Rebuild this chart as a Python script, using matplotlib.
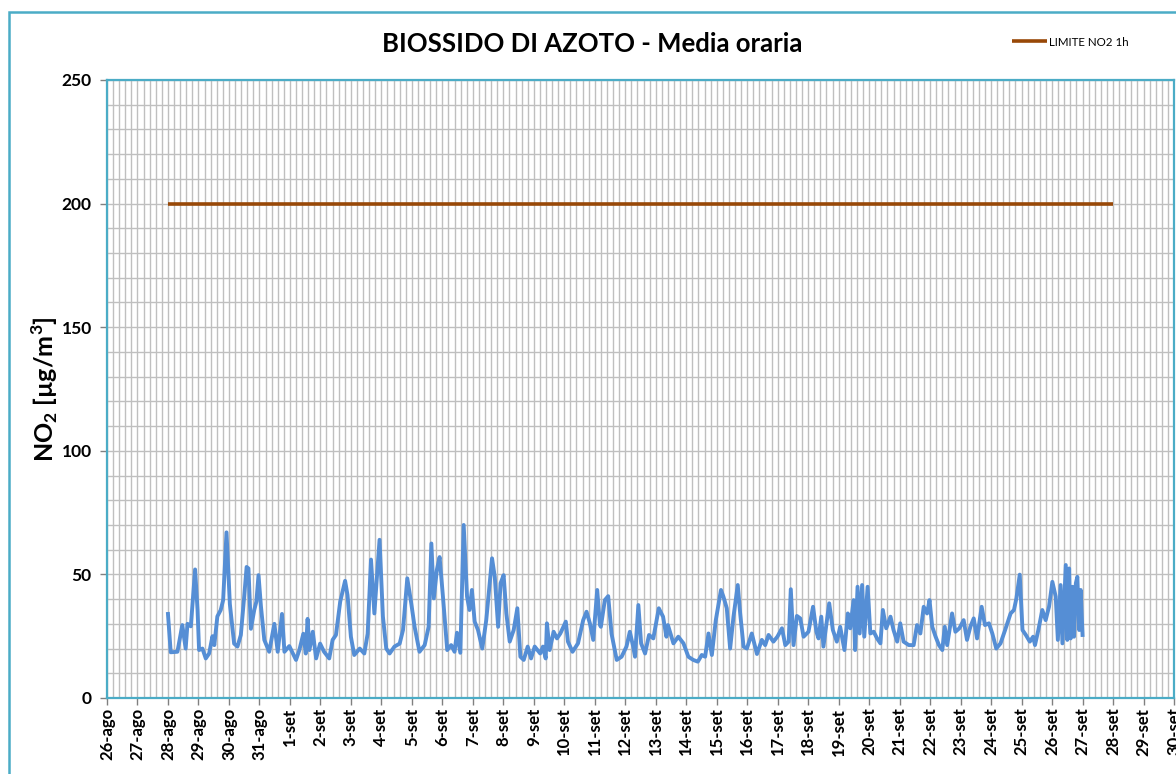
import matplotlib
matplotlib.use("Agg")
import matplotlib.pyplot as plt
from matplotlib.ticker import MultipleLocator
from matplotlib.patches import Rectangle

plt.rcParams["font.family"] = ["Lato", "DejaVu Sans"]
plt.rcParams["mathtext.fontset"] = "custom"
plt.rcParams["mathtext.rm"] = "Lato"
plt.rcParams["mathtext.bf"] = "Lato:bold"

# giorni dal 26-ago (asse x)
giorni = ["26-ago", "27-ago", "28-ago", "29-ago", "30-ago", "31-ago"] + \
         ["%d-set" % g for g in range(1, 31)]

# tempo in giorni dal 28-ago 00:00, NO2 in ug/m3
t_no2 = [0.00, 0.09, 0.31, 0.47, 0.58, 0.64, 0.75, 0.89, 0.97, 1.02, 1.13, 1.24, 1.35, 1.46, 1.52,
         1.62, 1.73, 1.81, 1.92, 2.03, 2.17, 2.28, 2.39, 2.50, 2.58, 2.64, 2.72, 2.83, 2.90, 2.97,
         3.05, 3.16, 3.32, 3.49, 3.60, 3.74, 3.82, 3.98, 4.20, 4.31, 4.44, 4.52,
         4.58, 4.64, 4.75, 4.86, 4.99, 5.12, 5.29, 5.40, 5.51, 5.65, 5.81, 5.89, 6.00, 6.11, 6.29,
         6.44, 6.55, 6.66, 6.77, 6.94, 7.05, 7.16, 7.27, 7.43, 7.60, 7.71, 7.85, 7.98, 8.09, 8.25,
         8.42, 8.55, 8.64, 8.72, 8.82, 8.91, 9.02, 9.16, 9.29, 9.40,
         9.48, 9.59, 9.70, 9.81, 9.89, 9.97, 10.06, 10.17, 10.31, 10.44, 10.63, 10.72, 10.83, 10.91,
         11.01, 11.10, 11.21, 11.34, 11.46, 11.56, 11.67, 11.80, 11.91, 12.03, 12.21, 12.30, 12.39,
         12.43, 12.52, 12.65, 12.76, 12.87, 13.05, 13.12, 13.27, 13.45, 13.62, 13.73, 13.84, 13.95,
         14.08, 14.17,
         14.20, 14.33, 14.44, 14.55, 14.72, 14.88, 15.04, 15.15, 15.26, 15.32, 15.43, 15.52, 15.65,
         15.78, 15.92, 16.10, 16.24, 16.35, 16.40, 16.58, 16.74, 16.91, 17.07, 17.23, 17.38, 17.51,
         17.62, 17.73, 17.84, 17.97, 18.14, 18.22, 18.33, 18.44, 18.55, 18.69, 18.77, 18.88,
         18.99, 19.15, 19.32, 19.48, 19.59, 19.70, 19.86, 19.99, 20.14, 20.25, 20.36, 20.43, 20.52,
         20.63, 20.74, 20.85, 21.01, 21.16, 21.27, 21.34, 21.43, 21.50, 21.69, 21.81, 21.94, 22.05,
         22.19, 22.30, 22.38, 22.49, 22.54, 22.62, 22.69, 22.77, 22.84, 22.95, 23.04, 23.15, 23.26,
         23.37, 23.45, 23.56,
         23.70, 23.80, 23.92, 24.02, 24.13, 24.30, 24.46, 24.57, 24.68, 24.79, 24.90, 24.98, 25.07,
         25.18, 25.29, 25.40, 25.48, 25.56, 25.72, 25.83, 25.96, 26.10, 26.21, 26.32, 26.43, 26.54,
         26.69, 26.80, 26.93, 27.04, 27.17, 27.31, 27.46, 27.64, 27.75, 27.83, 27.94, 28.03, 28.14,
         28.27, 28.38, 28.44, 28.55, 28.68, 28.79, 28.90, 29.01, 29.12, 29.19, 29.28, 29.34, 29.45,
         29.50, 29.56, 29.61, 29.67, 29.72, 29.78, 29.83, 29.89, 29.94, 30.00]
no2 = [34, 18.5, 18.7, 29.5, 20, 30, 29, 52, 35.6, 19.4, 20, 16, 18, 25, 21.4,
       33, 35.6, 39.6, 67, 38, 22, 20.8, 25.5, 41, 53, 52.4, 28, 35.6, 39, 49.7,
       37, 23.5, 18.7, 30, 18.7, 34, 18.7, 21, 15.4, 19.4, 26, 18,
       32, 19.4, 26.8, 16, 22, 18.7, 16, 23.5, 25.5, 39, 47.4, 41.6, 24.8, 17.4, 20,
       18, 26, 56, 34.2, 64, 33, 20, 18, 20.8, 22, 27.5, 48.4, 38.3, 28.8, 18.7,
       21.4, 28.8, 62.5, 40.3, 51.8, 57, 41, 19.4, 21.4, 18.7,
       26.4, 18.3, 70, 41, 35.6, 43.7, 30.9, 27.5, 20, 31.5, 56.5, 49, 28.8, 46.4,
       49.7, 34.2, 22.8, 27.5, 36.3, 16.7, 15.4, 20.8, 16, 20.8, 18, 20.8, 16,
       30.2, 19.4, 26.8, 24.1, 26.1, 30.9, 22.8, 18.7, 22.1, 31.5, 34.9, 30.2, 23.5,
       43.7, 29.5,
       28.8, 39.6, 41.2, 26, 15.4, 16.7, 20.8, 26.8, 20.8, 16.7, 37.6, 22.1, 18,
       25.5, 24.1, 36.3, 32.9, 24.8, 29.5, 22.1, 24.8, 22.1, 16.7, 15.4, 14.7, 17.4,
       16.7, 26.1, 17.4, 31.5, 43.7, 41, 36.3, 20, 32.9, 45.7, 34.2, 20.8,
       20, 26.1, 17.8, 23.5, 21.4, 25.5, 22.8, 24.8, 28.2, 21.4, 22.8, 44, 21.4,
       33.2, 32.2, 24.8, 26.8, 36.9, 26.8, 24.1, 32.9, 20.8, 38.3, 27.5, 22.8, 28.8,
       19.4, 34.2, 28.2, 39.6, 19.4, 45, 26.1, 45.7, 24.8, 45, 26.1, 26.8, 24.1,
       22.1, 35.6, 28.2,
       32.9, 27.5, 22.8, 30.2, 22.8, 21.4, 21.4, 29.5, 26.1, 36.9, 34.2, 39.6, 28.8,
       24.8, 21.4, 19.4, 28.8, 21.4, 34.2, 26.8, 28.2, 31.5, 23.5, 28.8, 32.2, 24.1,
       36.9, 29.5, 30.2, 26.1, 20, 22.1, 27.5, 34.2, 35.6, 40.3, 49.9, 27.5, 25.5,
       22.8, 24.8, 21.4, 27.5, 35.6, 31.5, 36.9, 47, 41, 23.5, 45.7, 22.1, 53.8,
       23.5, 52.4, 24.1, 45, 24.8, 46.4, 49, 27.5, 43.7, 25.5]

t_limite = [0, 31]
limite = [200, 200]

offset = 2  # 28-ago rispetto al 26-ago

fig = plt.figure(figsize=(11.76, 7.74), dpi=100)
ax = fig.add_axes([107 / 1176, 1 - 698 / 774, (1174 - 107) / 1176, (698 - 80) / 774])

ax.plot([t + offset for t in t_limite], limite, color="#984807", lw=2.6,
        label="LIMITE NO2 1h", zorder=3, solid_capstyle="butt")
ax.plot([t + offset for t in t_no2], no2, color="#558ED5", lw=2.8, zorder=3,
        solid_joinstyle="round")

ax.set_xlim(0, 35)
ax.set_ylim(0, 250)
ax.xaxis.set_major_locator(MultipleLocator(1))
ax.xaxis.set_minor_locator(MultipleLocator(0.2))
ax.yaxis.set_major_locator(MultipleLocator(50))
ax.yaxis.set_minor_locator(MultipleLocator(10))
ax.set_xticks(range(len(giorni)))
ax.set_xticklabels(giorni, rotation=90, fontsize=12, fontweight="bold")
for lab in ax.get_yticklabels():
    lab.set_fontsize(12.5)
    lab.set_fontweight("bold")
ax.tick_params(axis="both", which="major", length=5, color="#808080", width=1)
ax.tick_params(axis="both", which="minor", length=0)
ax.tick_params(axis="y", pad=6)
ax.tick_params(axis="x", pad=2)
ax.grid(True, which="both", color="#BFBFBF", lw=1.0, zorder=0)
ax.set_axisbelow(True)
for s in ax.spines.values():
    s.set_color("#4BACC6")
    s.set_linewidth(1.6)

ax.set_ylabel(r"NO$_\mathbf{2}$ [µg/m$^\mathbf{3}$]", fontsize=18, fontweight="bold", labelpad=1)
fig.text(592 / 1176, 1 - 44 / 774, "BIOSSIDO DI AZOTO - Media oraria", fontsize=18.5,
         fontweight="bold", ha="center", va="center")

fig.legend(loc="center left", bbox_to_anchor=(1012 / 1176, 1 - 42 / 774), frameon=False,
           fontsize=8.3, handlelength=3.0, handletextpad=0.2, borderaxespad=0, borderpad=0)

# bordo esterno del grafico
fig.patches.append(Rectangle((9 / 1176, -0.05), 1.2, (774 - 12) / 774 + 0.05,
                             transform=fig.transFigure, fill=False, ec="#4BACC6", lw=1.8))

fig.savefig("out.png", dpi=100)
plt.close(fig)
